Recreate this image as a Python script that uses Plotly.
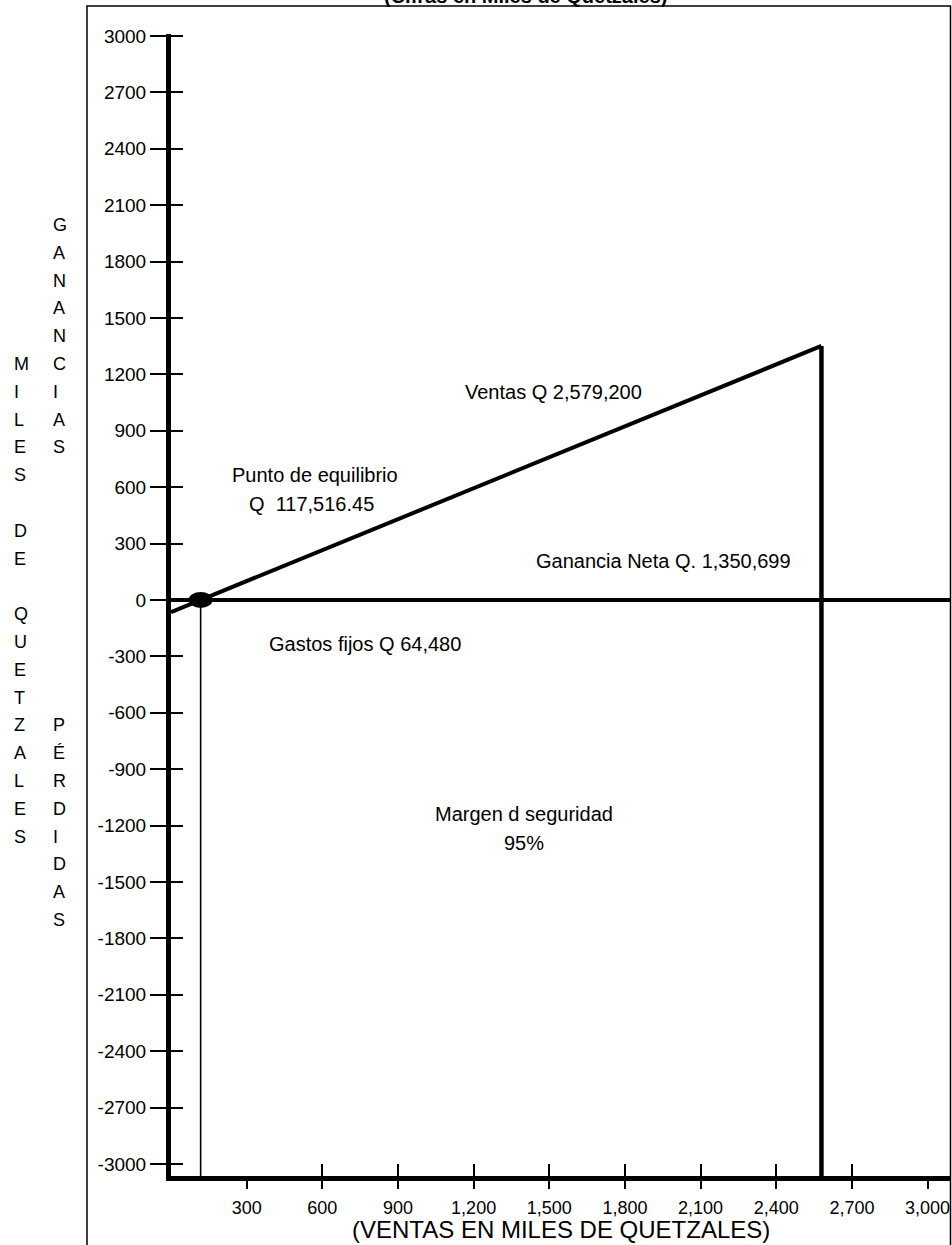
import plotly.graph_objects as go

# ---------------- data (miles de quetzales) ----------------
ventas = 2579.2
gastos_fijos = 64.48
ganancia_neta = 1350.699
punto_equilibrio = 117.51645

profit_x = [0, ventas]
profit_y = [-gastos_fijos, ganancia_neta]

x_tick_vals = [300, 600, 900, 1200, 1500, 1800, 2100, 2400, 2700, 3000]
x_tick_text = ["300", "600", "900", "1,200", "1,500", "1,800", "2,100", "2,400", "2,700", "3,000"]
y_tick_vals = [3000, 2700, 2400, 2100, 1800, 1500, 1200, 900, 600, 300, 0,
               -300, -600, -900, -1200, -1500, -1800, -2100, -2400, -2700, -3000]
y_tick_text = ["3000", "2700", "2400", "2100", "1800", "1500", "1200", "900", "600", "300", "0",
               "-300", "-600", "-900", "-1200", "-1500", "-1800", "-2100", "-2400", "-2700", "-3000"]

# ---------------- layout constants ----------------
W, H = 952, 1245
L, R, T, B = 171, 950, 34, 1176
X_RANGE = [0, 3089]
Y_RANGE = [-3064, 3010]
FONT = "Arial, Liberation Sans, sans-serif"


def px_x(px):
    return (px - L) / (R - L)


def px_y(py):
    return (B - py) / (B - T)


fig = go.Figure()

# profit (ventas) line
fig.add_trace(go.Scatter(x=profit_x, y=profit_y, mode="lines",
                         line=dict(color="black", width=4),
                         hoverinfo="skip", showlegend=False))
# break-even vertical (thin)
fig.add_trace(go.Scatter(x=[punto_equilibrio, punto_equilibrio], y=[0, Y_RANGE[0]],
                         mode="lines", line=dict(color="black", width=1.6),
                         hoverinfo="skip", showlegend=False))
# ventas vertical (thick)
fig.add_trace(go.Scatter(x=[ventas, ventas], y=[ganancia_neta, Y_RANGE[0]],
                         mode="lines", line=dict(color="black", width=4.5),
                         hoverinfo="skip", showlegend=False))
# dummy trace for overlay axes (inside tick marks)
fig.add_trace(go.Scatter(x=[0], y=[0], xaxis="x2", yaxis="y2", mode="markers",
                         marker=dict(opacity=0), hoverinfo="skip", showlegend=False))

shapes = [
    # outer frame
    dict(type="rect", xref="paper", yref="paper", x0=px_x(87), x1=px_x(950.5),
         y0=px_y(1400), y1=px_y(6), line=dict(color="black", width=1.5), layer="above"),
    # break-even point marker
    dict(type="circle", xref="x", yref="y", xsizemode="pixel", ysizemode="pixel",
         xanchor=punto_equilibrio, yanchor=0, x0=-12, x1=12, y0=-8, y1=8,
         fillcolor="black", line=dict(color="black", width=0), layer="above"),
]

annotations = []


def txt(text, x, y, size=20, xanchor="center", bold=False):
    annotations.append(dict(text=("<b>%s</b>" % text) if bold else text,
                            xref="paper", yref="paper", x=px_x(x), y=px_y(y),
                            xanchor=xanchor, yanchor="middle", showarrow=False,
                            font=dict(family=FONT, size=size, color="black")))


txt("(Cifras en Miles de Quetzales)", 525, -4, size=20, bold=True)
txt("Ventas Q 2,579,200", 553, 392)
txt("Punto de equilibrio", 230, 475, xanchor="left")
txt("Q\u00a0\u00a0117,516.45", 247, 504, xanchor="left")
txt("Ganancia Neta Q. 1,350,699", 663, 561)
txt("Gastos fijos Q 64,480", 365, 644)
txt("Margen d seguridad", 524, 814)
txt("95%", 524, 843)
txt("(VENTAS EN MILES DE QUETZALES)", 561, 1229, size=24)

# vertical stacked letters (one letter per row)
step = 27.8
row0 = 364  # row of "M" / "C"
col1 = [("MILES", 0), ("DE", 6), ("QUETZALES", 9)]
for word, start in col1:
    for i, ch in enumerate(word):
        txt(ch, 12, row0 + (start + i) * step, size=18, xanchor="left")
col2 = [("GANANCIAS", -5), ("PÉRDIDAS", 13)]
for word, start in col2:
    for i, ch in enumerate(word):
        txt(ch, 51, row0 + (start + i) * step, size=18, xanchor="left")

fig.update_layout(
    width=W, height=H,
    margin=dict(l=L, r=W - R, t=T, b=H - B, pad=0),
    paper_bgcolor="white", plot_bgcolor="white",
    showlegend=False,
    shapes=shapes, annotations=annotations,
    xaxis=dict(range=X_RANGE, showgrid=False, zeroline=False,
               showline=True, linecolor="black", linewidth=5,
               ticks="outside", ticklen=8, tickwidth=2, tickcolor="black",
               tickvals=x_tick_vals, ticktext=x_tick_text,
               tickfont=dict(family=FONT, size=18, color="black"),
               ticklabelstandoff=3),
    yaxis=dict(range=Y_RANGE, showgrid=False,
               zeroline=True, zerolinecolor="black", zerolinewidth=4,
               showline=True, linecolor="black", linewidth=5,
               ticks="outside", ticklen=16, tickwidth=2, tickcolor="black",
               tickvals=y_tick_vals, ticktext=y_tick_text,
               tickfont=dict(family=FONT, size=19, color="black")),
    xaxis2=dict(overlaying="x", matches="x", anchor="y2", side="bottom",
                showgrid=False, zeroline=False, showline=False,
                ticks="inside", ticklen=12, tickwidth=2, tickcolor="black",
                tickvals=x_tick_vals[1:-1], showticklabels=False),
    yaxis2=dict(overlaying="y", matches="y", anchor="x2", side="left",
                showgrid=False, zeroline=False, showline=False,
                ticks="inside", ticklen=12, tickwidth=2, tickcolor="black",
                tickvals=y_tick_vals, showticklabels=False),
)

fig.write_html("out.html", config={"displayModeBar": False},
               post_script="document.body.style.margin='0px';document.body.style.overflow='hidden';")
